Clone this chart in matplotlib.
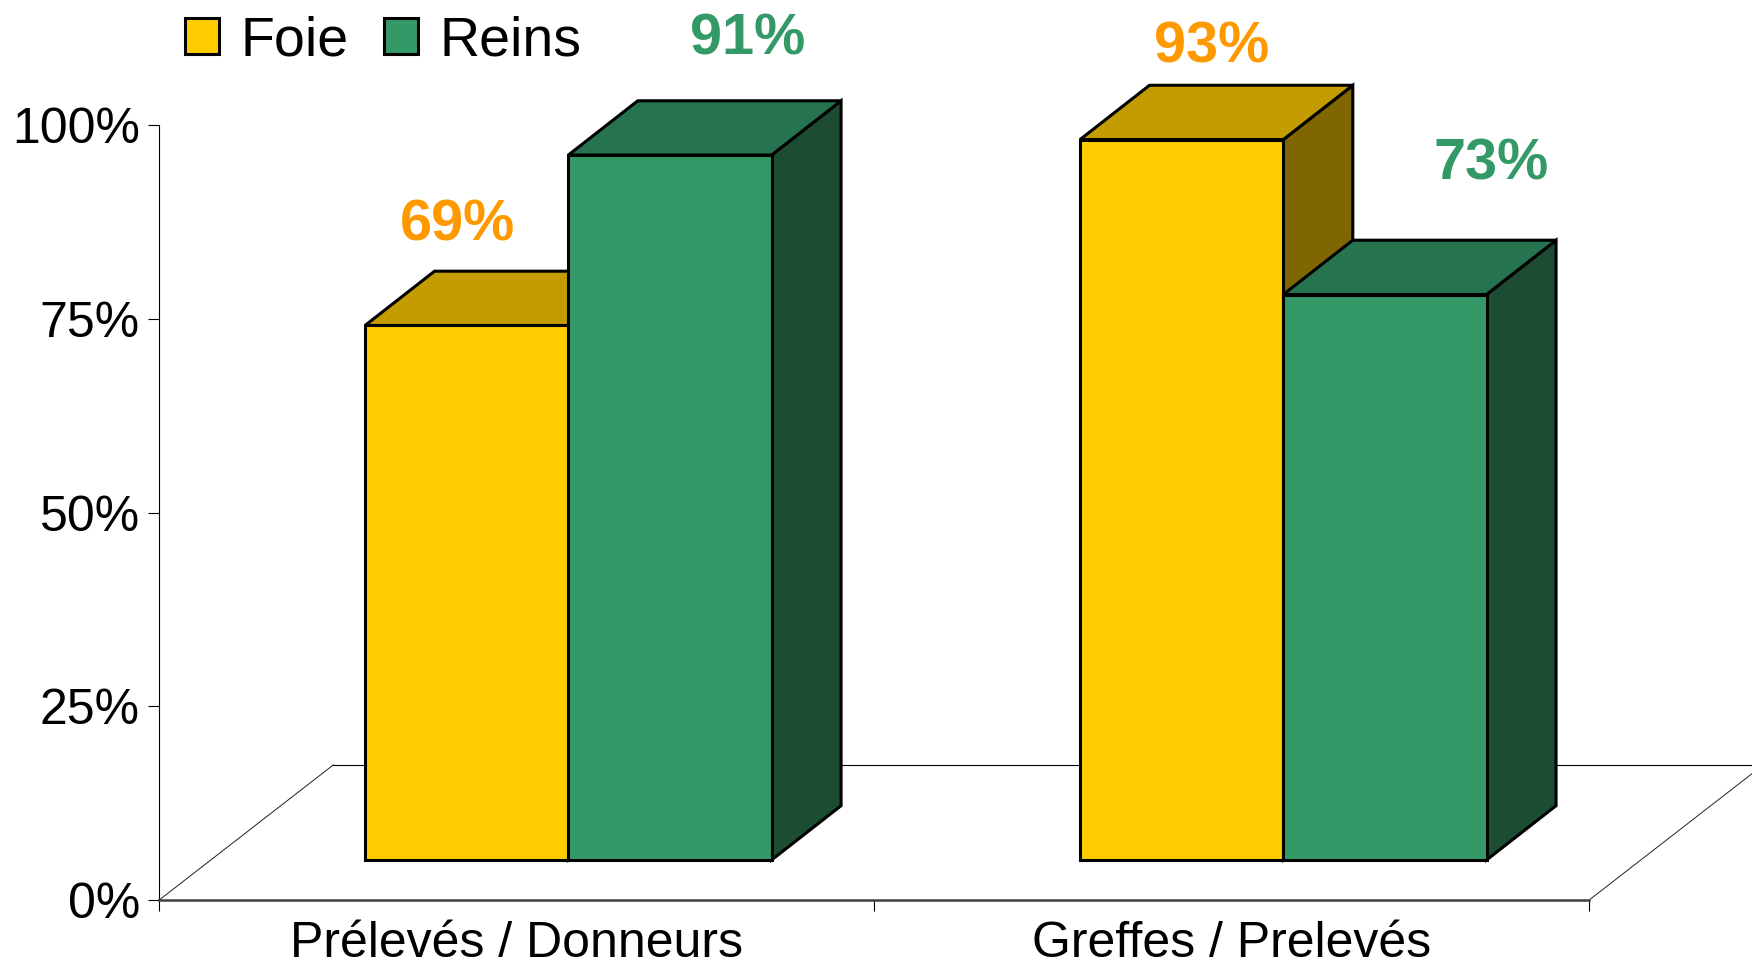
import numpy as np
import matplotlib.pyplot as plt
from matplotlib.patches import Polygon, Patch

plt.rcParams['font.family'] = ['Liberation Sans', 'DejaVu Sans']

# data
categories = ['Prélevés / Donneurs', 'Greffes / Prelevés']
series = ['Foie', 'Reins']
foie = [69, 93]
reins = [91, 73]
values = [foie, reins]
yticks = [0, 25, 50, 75, 100]
ylabels = ['0%', '25%', '50%', '75%', '100%']

# style
front_col = ['#FFCC00', '#339966']
top_col = ['#C29C00', '#267350']
side_col = ['#806600', '#1C4D33']
label_col = ['#FF9900', '#339966']
# label offsets (points) from the top face centre, per series / category
label_nudge = [[(-31.7, 42.0), (-3.2, 35.8)],
               [(30.7, 52.5), (51.6, 63.6)]]

w = 0.2843              # bar width (category units)
floor_dx, floor_dy = 0.2434, 17.43
shift_x, shift_y = 0.0721, 5.16
bar_dx, bar_dy = 0.0972, 7.01

fig = plt.figure(figsize=(17.52, 9.76), dpi=100)
ax = fig.add_axes([0.0909, 0.0779, 0.8162, 0.7937])
ax.set_xlim(0, 2)
ax.set_ylim(0, 100)

for s in ['top', 'right']:
    ax.spines[s].set_visible(False)
ax.spines['left'].set_linewidth(0.8)
ax.spines['bottom'].set_color('#404040')
ax.spines['bottom'].set_linewidth(1.8)

ax.set_yticks(yticks)
ax.set_yticklabels(ylabels, fontsize=36)
ax.tick_params(axis='y', length=7.9, width=0.8, pad=6)

ax.set_xticks([0, 1, 2])
ax.set_xticklabels([])
ax.tick_params(axis='x', which='major', length=7.7, width=0.8)
ax.set_xticks([0.5, 1.5], minor=True)
ax.set_xticklabels(categories, minor=True, fontsize=36)
ax.tick_params(axis='x', which='minor', length=0, pad=15)

# floor
ax.plot([0, floor_dx], [0, floor_dy], color='#222222', lw=0.7, clip_on=False, zorder=1)
ax.plot([floor_dx, 2 + floor_dx], [floor_dy, floor_dy], color='black', lw=0.8, clip_on=False, zorder=1)
ax.plot([2, 2 + floor_dx], [0, floor_dy], color='#222222', lw=0.7, clip_on=False, zorder=1)

z = 3
for i in range(len(categories)):
    for j in range(len(series)):
        v = values[j][i]
        x0 = i + 0.5 + shift_x + (j - 1) * w
        y0 = shift_y
        y1 = shift_y + v
        front = [(x0, y0), (x0 + w, y0), (x0 + w, y1), (x0, y1)]
        top = [(x0, y1), (x0 + w, y1), (x0 + w + bar_dx, y1 + bar_dy), (x0 + bar_dx, y1 + bar_dy)]
        side = [(x0 + w, y0), (x0 + w + bar_dx, y0 + bar_dy),
                (x0 + w + bar_dx, y1 + bar_dy), (x0 + w, y1)]
        for pts, c in [(side, side_col[j]), (top, top_col[j]), (front, front_col[j])]:
            ax.add_patch(Polygon(pts, closed=True, facecolor=c, edgecolor='black',
                                 linewidth=2.2, joinstyle='miter', clip_on=False, zorder=z))
        z += 1
        ax.annotate(f'{v}%', xy=(x0 + w / 2 + bar_dx / 2, y1 + bar_dy / 2),
                    xytext=label_nudge[j][i], textcoords='offset points',
                    ha='center', va='baseline', fontsize=41.5, fontweight='bold',
                    color=label_col[j], annotation_clip=False, zorder=20)

handles = [Patch(facecolor=front_col[j], edgecolor='black', linewidth=2.2) for j in range(len(series))]
fig.legend(handles, series, loc='center left', bbox_to_anchor=(184.8 / 1752, 1 - 42 / 976),
           ncol=2, frameon=False, fontsize=40, handlelength=0.62, handleheight=0.62,
           handletextpad=0.38, columnspacing=0.64, borderpad=0, borderaxespad=0)

fig.savefig('out.png', dpi=100)
